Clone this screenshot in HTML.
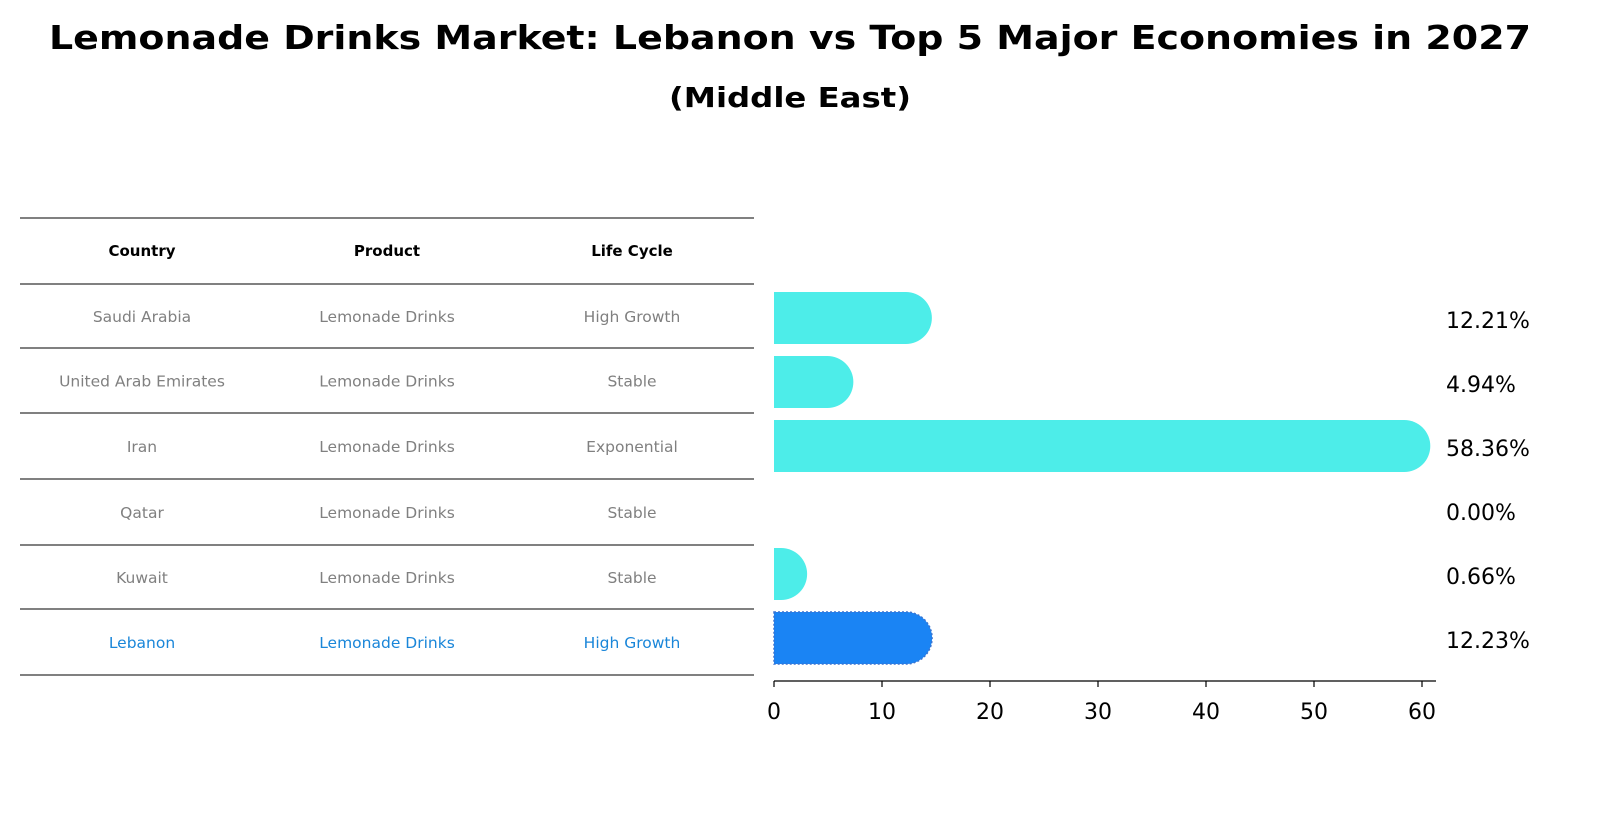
<!DOCTYPE html>
<html><head><meta charset="utf-8"><style>
html,body{margin:0;padding:0;background:#fff;overflow:hidden;width:1604px;height:823px}
svg{display:block}
svg text{font-family:"DejaVu Sans","Liberation Sans",sans-serif}
</style></head><body>
<svg id="c" width="1604" height="823" xmlns="http://www.w3.org/2000/svg">
<text x="790" y="49" text-anchor="middle" font-size="33" font-weight="bold" textLength="1482" lengthAdjust="spacingAndGlyphs">Lemonade Drinks Market: Lebanon vs Top 5 Major Economies in 2027</text>
<text x="790" y="107" text-anchor="middle" font-size="28" font-weight="bold" textLength="242" lengthAdjust="spacingAndGlyphs">(Middle East)</text>
<g id="table"></g>
<g id="bars"></g>
<g id="axis"></g>
</svg>
<script>
const countries=["Saudi Arabia","United Arab Emirates","Iran","Qatar","Kuwait","Lebanon"];
const products=["Lemonade Drinks","Lemonade Drinks","Lemonade Drinks","Lemonade Drinks","Lemonade Drinks","Lemonade Drinks"];
const lifeCycles=["High Growth","Stable","Exponential","Stable","Stable","High Growth"];
const values=[12.21,4.94,58.36,0.00,0.66,12.23];
const ticks=[0,10,20,30,40,50,60];
const NS="http://www.w3.org/2000/svg";
const x0=774,ppu=10.8;
function xs(v){return x0+v*ppu;}
function yRow(i){return 318+i*64;}
function mk(tag,attrs,parent,txt){const e=document.createElementNS(NS,tag);for(const k in attrs)e.setAttribute(k,attrs[k]);if(txt!==undefined)e.textContent=txt;parent.appendChild(e);return e;}
const T=document.getElementById('table'),B=document.getElementById('bars'),A=document.getElementById('axis');
const lineYs=[218,284,348,413,479,545,609,675];
lineYs.forEach(y=>{const l=mk('line',{x1:20,x2:754,y1:y,y2:y,stroke:'#000','stroke-width':1},T);

});
const colX=[142,387,632];
["Country","Product","Life Cycle"].forEach((h,j)=>{const t=mk('text',{x:colX[j],y:256,'text-anchor':'middle','font-size':15,'font-weight':'bold'},T,h);

});
countries.forEach((c,i)=>{
 const y=(lineYs[i+1]+lineYs[i+2])/2+6;
 const col=c==="Lebanon"?"#1a86d9":"#808080";
 [c,products[i],lifeCycles[i]].forEach((s,j)=>{const t=mk('text',{x:colX[j],y:y,'text-anchor':'middle','font-size':15.5,fill:col},T,s);
 
 });
 const v=values[i],yc=yRow(i),r=26,xe=xs(v);
 const leb=c==="Lebanon";
 if(v>0){
  const p=mk('path',{d:`M${x0},${yc-r} L${xe},${yc-r} A${r},${r} 0 0 1 ${xe},${yc+r} L${x0},${yc+r} Z`,fill:leb?'#1a84f4':'#4dede9',stroke:leb?'#3a74d0':'none','stroke-width':leb?1.5:0,'stroke-dasharray':leb?'2,2':''},B);
  
  
 }
 const lt=mk('text',{x:1446,y:yc+10,'font-size':22},B,v.toFixed(2)+'%');
 
 
});
const ax=mk('line',{x1:x0,x2:1436,y1:681,y2:681,stroke:'#000','stroke-width':1.2},A);


ticks.forEach(t=>{const tk=mk('line',{x1:xs(t),x2:xs(t),y1:681,y2:687,stroke:'#000','stroke-width':1.2},A);


const tl=mk('text',{x:xs(t),y:719,'text-anchor':'middle','font-size':22},A,String(t));

});
</script>
</body></html>
